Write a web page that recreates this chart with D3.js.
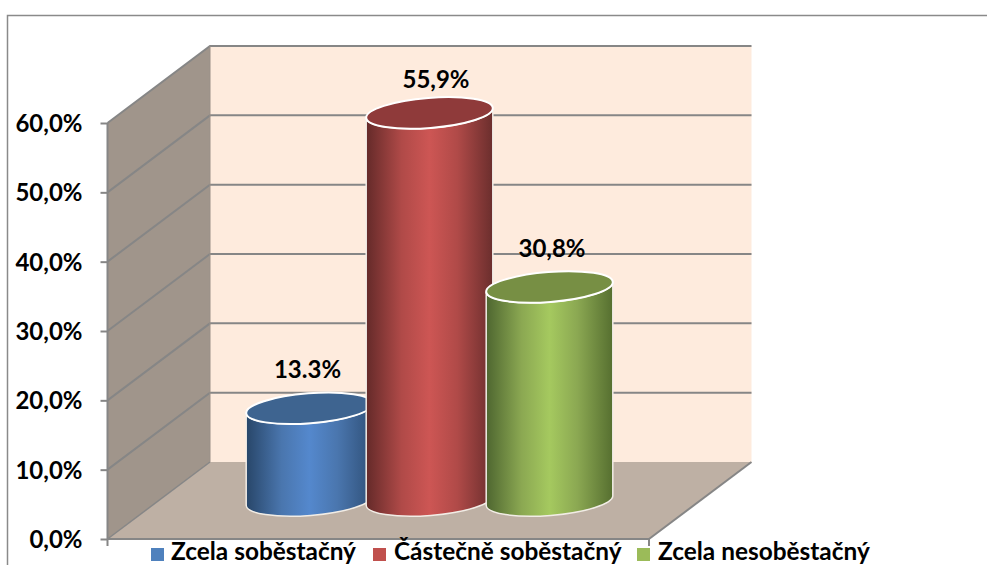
<!DOCTYPE html>
<html><head><meta charset="utf-8">
<script src="https://cdn.jsdelivr.net/npm/d3@7"></script>
<style>html,body{margin:0;padding:0;background:#fff;overflow:hidden}svg{display:block}text{font-family:Lato,"Open Sans",sans-serif;font-weight:700;fill:#000}</style>
</head><body><svg id="c" width="987" height="565"></svg>
<script>
const categories = ["Zcela soběstačný", "Částečně soběstačný", "Zcela nesoběstačný"];
const values = [13.3, 55.9, 30.8];
const valueLabels = ["13.3%", "55,9%", "30,8%"];
const tickValues = [0, 10, 20, 30, 40, 50, 60];
const sideColors = [
  ["#284669", "#4a76ae", "#5488cd", "#4a76ae", "#2f5078"],
  ["#642a29", "#b04a48", "#cd5654", "#b04a48", "#6b2e2d"],
  ["#4e6630", "#8ba852", "#a5c95f", "#8ba852", "#566f30"]
];
const topColors = ["#3e6490", "#8f3a3a", "#778f44"];
const legendColors = ["#4f81bd", "#c0504d", "#9bbb59"];

const svg = d3.select("#c");
const gray = "#868686";
const x0 = 107.5, x1 = 649, dx = 102.5, dy = -77;
const y = d3.scaleLinear().domain([0, 60]).range([539, 123]);
const cx = d3.scalePoint().domain(categories).range([309.5, 549.5]);
const rx = 63.5, ry = 15, tilt = -4.5;
const ca = Math.cos(tilt * Math.PI / 180), sa = Math.sin(tilt * Math.PI / 180);

// frame
svg.append("path").attr("d", "M7.5 565V15.5H987").attr("fill", "none").attr("stroke", "#8a8a8a").attr("stroke-width", 1.5);

// walls
const defs = svg.append("defs");
svg.append("polygon").attr("fill", "#a0958b")
  .attr("points", [[x0, y(0)], [x0 + dx, y(0) + dy], [x0 + dx, y(60) + dy], [x0, y(60)]].join(" "));
svg.append("polygon").attr("fill", "#feebdd")
  .attr("points", [[x0 + dx, y(0) + dy], [x1 + dx, y(0) + dy], [x1 + dx, y(60) + dy], [x0 + dx, y(60) + dy]].join(" "));
svg.append("polygon").attr("fill", "#beb0a4")
  .attr("points", [[x0, y(0)], [x1, y(0)], [x1 + dx, y(0) + dy], [x0 + dx, y(0) + dy]].join(" "));

// gridlines
const grid = svg.append("g").attr("fill", "none").attr("stroke", gray).attr("stroke-width", 2);
tickValues.forEach(v => {
  if (v > 0) grid.append("path").attr("d", `M${x0} ${y(v)}L${x0 + dx} ${y(v) + dy}H${x1 + dx}`);
});
grid.append("path").attr("d", `M${x0} ${y(0)}L${x0 + dx} ${y(0) + dy}`).attr("stroke-width", 1.5);
grid.append("path").attr("d", `M${x1} ${y(0)}L${x1 + dx} ${y(0) + dy}`);
grid.append("path").attr("d", `M${x0 + dx} ${y(0) + dy}V${y(60) + dy}`).attr("stroke-width", 1).attr("stroke", "#9a9088");

// axes
const axis = d3.axisLeft(y).tickValues(tickValues).tickSize(7).tickPadding(18)
  .tickFormat(d => d.toFixed(1).replace(".", ",") + "%");
const ag = svg.append("g").attr("transform", `translate(${x0},0)`).call(axis);
ag.selectAll("path,line").attr("stroke", gray).attr("stroke-width", 2);
ag.select(".domain").attr("d", `M0 ${y(60)}V${y(0) + 7}`);
ag.selectAll("text").attr("font-size", 24).attr("x", -25).attr("dy", "0.36em")
  .style("font-family", "Lato").style("font-weight", 700);
svg.append("path").attr("d", `M${x0} ${y(0)}H${x1}V${y(0) + 7}`).attr("fill", "none").attr("stroke", gray).attr("stroke-width", 2);

// cylinders
categories.forEach((c, i) => {
  const g = defs.append("linearGradient").attr("id", "g" + i).attr("x1", 0).attr("x2", 1).attr("y1", 0).attr("y2", 0);
  [0, .28, .5, .72, 1].forEach((o, k) => g.append("stop").attr("offset", o).attr("stop-color", sideColors[i][k]));
  const X = cx(c), yb = y(0) + dy / 2, yt = y(values[i]) + dy / 2;
  const lx = X - rx * ca, rxp = X + rx * ca, ly = -rx * sa, ry2 = rx * sa;
  const body = `M${lx} ${yt + ly}L${lx} ${yb + ly}A${rx} ${ry} ${tilt} 0 0 ${rxp} ${yb + ry2}L${rxp} ${yt + ry2}A${rx} ${ry} ${tilt} 0 1 ${lx} ${yt + ly}Z`;
  svg.append("path").attr("d", body).attr("fill", `url(#g${i})`).attr("stroke", "#f2ede6").attr("stroke-width", 1.5);
  svg.append("ellipse").attr("cx", 0).attr("cy", 0).attr("rx", rx).attr("ry", ry)
    .attr("transform", `translate(${X},${yt}) rotate(${tilt})`)
    .attr("fill", topColors[i]).attr("stroke", "#fff").attr("stroke-width", 2);
  svg.append("text").attr("x", X + [-2, 6.5, 2.5][i]).attr("y", yt - [30, 25, 30][i])
    .attr("text-anchor", "middle").attr("font-size", 24).text(valueLabels[i]);
});

// legend
const lx0 = [151, 373, 637], tx0 = [171, 394, 658];
categories.forEach((c, i) => {
  svg.append("rect").attr("x", lx0[i]).attr("y", 548).attr("width", 13).attr("height", 13).attr("fill", legendColors[i]);
  svg.append("text").attr("x", tx0[i]).attr("y", 560).attr("font-size", 24.4).text(c);
});
</script></body></html>
